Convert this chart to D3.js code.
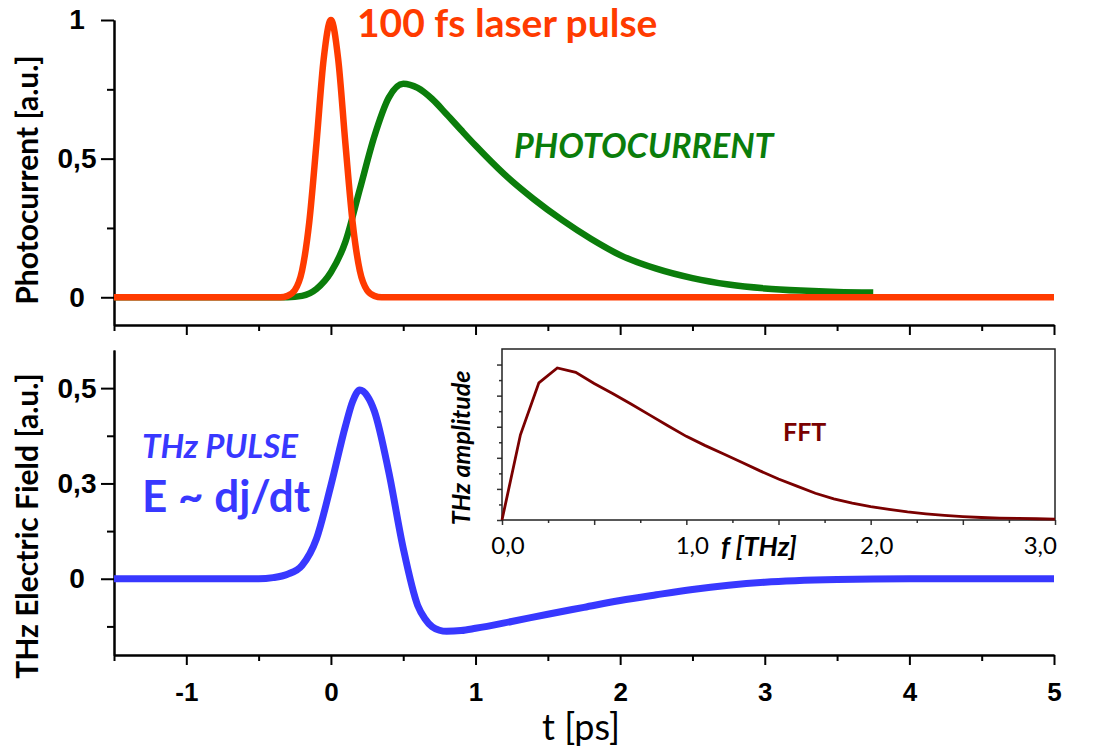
<!DOCTYPE html>
<html>
<head>
<meta charset="utf-8">
<script src="https://cdn.jsdelivr.net/npm/d3@7"></script>
<style>
  body { margin: 0; background: #fff; }
  svg { display: block; font-family: Lato, "Open Sans", sans-serif; }
</style>
</head>
<body>
<div id="chart"></div>
<script>
// laser pulse (top panel, red)
const timeLaser = [-1.5, -1, -0.5, -0.4, -0.35, -0.3, -0.25, -0.2, -0.15, -0.1, -0.05, 0, 0.05, 0.1, 0.15, 0.2, 0.25, 0.3, 0.35, 0.4, 0.5, 1, 2, 3, 4, 5];
const laserPulse = [0, 0, 0, 0, 0, 0.005, 0.025, 0.095, 0.27, 0.555, 0.86, 1, 0.86, 0.555, 0.27, 0.095, 0.025, 0.005, 0, 0, 0, 0, 0, 0, 0, 0];

// photocurrent (top panel, green)
const timePhoto = [-1.5, -1, -0.5, -0.4, -0.3, -0.2, -0.1, 0, 0.1, 0.2, 0.3, 0.4, 0.5, 0.6, 0.7, 0.8, 0.9, 1.0, 1.2, 1.4, 1.6, 1.8, 2.0, 2.25, 2.5, 2.75, 3.0, 3.25, 3.5, 3.75];
const photocurrent = [0, 0, 0, 0, 0, 0.005, 0.03, 0.09, 0.2, 0.39, 0.58, 0.72, 0.77, 0.755, 0.715, 0.66, 0.603, 0.547, 0.443, 0.355, 0.278, 0.21, 0.152, 0.103, 0.069, 0.046, 0.032, 0.024, 0.019, 0.017];

// THz field (bottom panel, blue)
const timeThz = [-1.5, -1, -0.6, -0.5, -0.4, -0.3, -0.2, -0.1, 0, 0.1, 0.15, 0.2, 0.25, 0.3, 0.4, 0.5, 0.6, 0.65, 0.7, 0.75, 0.8, 0.9, 1.0, 1.25, 1.5, 1.75, 2.0, 2.25, 2.5, 2.75, 3.0, 3.5, 4.0, 4.5, 5.0];
const thzField = [0, 0, 0, 0, 0.003, 0.012, 0.035, 0.105, 0.245, 0.4, 0.465, 0.495, 0.48, 0.44, 0.28, 0.08, -0.07, -0.105, -0.126, -0.135, -0.138, -0.136, -0.13, -0.112, -0.093, -0.075, -0.057, -0.042, -0.028, -0.017, -0.009, -0.002, 0, 0, 0];

// FFT spectrum (inset)
const fftFreq = [0, 0.1, 0.2, 0.3, 0.4, 0.5, 0.6, 0.7, 0.8, 0.9, 1.0, 1.1, 1.2, 1.3, 1.4, 1.5, 1.6, 1.7, 1.8, 1.9, 2.0, 2.1, 2.2, 2.3, 2.4, 2.5, 2.6, 2.7, 2.8, 2.9, 3.0];
const fftAmp = [0, 2.74, 4.41, 4.89, 4.75, 4.39, 4.07, 3.73, 3.38, 3.03, 2.69, 2.4, 2.13, 1.86, 1.58, 1.32, 1.09, 0.86, 0.68, 0.54, 0.43, 0.34, 0.26, 0.2, 0.15, 0.11, 0.08, 0.06, 0.05, 0.04, 0.03];

// ticks
const timeTicks = [-1, 0, 1, 2, 3, 4, 5];
const timeMinorTicks = [-1.5, -0.5, 0.5, 1.5, 2.5, 3.5, 4.5];
const topTicks = [0, 0.5, 1];
const topMinorTicks = [0.25, 0.75];
const bottomTicks = [0, 0.25, 0.5];
const bottomMinorTicks = [-0.125, 0.125, 0.375];
const fftTicks = [0, 1, 2, 3];
const fftMajorTicks = [0, 0.5, 1, 1.5, 2, 2.5, 3];
const fftMinorTicks = [0.25, 0.75, 1.25, 1.75, 2.25, 2.75];
const ampTicks = [0, 1, 2, 3, 4, 5];
const ampMinorTicks = [0.5, 1.5, 2.5, 3.5, 4.5];

// "0", "1", "0,5", "0,3" style labels
const comma = (d) => (Number.isInteger(d) ? String(d) : d3.format(".1f")(d).replace(".", ","));

const W = 1094, H = 748;
const svg = d3.select("#chart").append("svg").attr("width", W).attr("height", H);

const x = d3.scaleLinear().domain([-1.5, 5]).range([114, 1054]);
const yTop = d3.scaleLinear().domain([-0.1, 1]).range([325, 20]);
const yBot = d3.scaleLinear().domain([-0.2, 0.6]).range([655, 350]);

function styleAxis(g, size) {
  g.select(".domain").attr("stroke", "#000").attr("stroke-width", 2);
  g.selectAll(".tick line").attr("stroke", "#000").attr("stroke-width", 2);
  g.selectAll("text")
    .attr("font-family", null)
    .style("font-size", size + "px")
    .style("font-weight", "bold")
    .attr("fill", "#000");
}

// ---- top panel axes
svg.append("g")
  .attr("transform", "translate(114,0)")
  .call(d3.axisLeft(yTop).tickValues(topMinorTicks).tickSize(7).tickSizeOuter(0).tickFormat(""))
  .call((g) => styleAxis(g, 28));
svg.append("g")
  .attr("transform", "translate(114,0)")
  .call(d3.axisLeft(yTop).tickValues(topTicks).tickSize(13).tickSizeOuter(0).tickFormat(comma))
  .call((g) => styleAxis(g, 28))
  .call((g) => g.selectAll("text").attr("x", -37).attr("text-anchor", "middle"));
svg.append("g")
  .attr("transform", "translate(0,325)")
  .call(d3.axisBottom(x).tickValues(timeMinorTicks).tickSize(6).tickSizeOuter(0).tickFormat(""))
  .call((g) => styleAxis(g, 26));
svg.append("g")
  .attr("transform", "translate(0,325)")
  .call(d3.axisBottom(x).tickValues(timeTicks).tickSize(10).tickSizeOuter(0).tickFormat(""))
  .call((g) => styleAxis(g, 26));

// ---- bottom panel axes
svg.append("g")
  .attr("transform", "translate(114,0)")
  .call(d3.axisLeft(yBot).tickValues(bottomMinorTicks).tickSize(7).tickSizeOuter(0).tickFormat(""))
  .call((g) => styleAxis(g, 28));
svg.append("g")
  .attr("transform", "translate(114,0)")
  .call(d3.axisLeft(yBot).tickValues(bottomTicks).tickSize(13).tickSizeOuter(0).tickFormat(comma))
  .call((g) => styleAxis(g, 28))
  .call((g) => g.selectAll("text").attr("x", -37).attr("text-anchor", "middle"));
svg.append("g")
  .attr("transform", "translate(0,655)")
  .call(d3.axisBottom(x).tickValues(timeMinorTicks).tickSize(6).tickSizeOuter(0).tickFormat(""))
  .call((g) => styleAxis(g, 26));
svg.append("g")
  .attr("transform", "translate(0,655)")
  .call(d3.axisBottom(x).tickValues(timeTicks).tickSize(10).tickSizeOuter(0).tickFormat((d) => String(d)))
  .call((g) => styleAxis(g, 26))
  .call((g) => g.selectAll("text").attr("y", 46).attr("dy", null));

// axis titles
svg.append("text")
  .attr("transform", "translate(38,180) rotate(-90)")
  .attr("text-anchor", "middle")
  .style("font-size", "30px").style("font-weight", "bold")
  .text("Photocurrent [a.u.]");
svg.append("text")
  .attr("transform", "translate(38,526) rotate(-90)")
  .attr("text-anchor", "middle")
  .style("font-size", "30px").style("font-weight", "bold")
  .text("THz Electric Field [a.u.]");
svg.append("text")
  .attr("x", 581).attr("y", 740)
  .attr("text-anchor", "middle")
  .style("font-size", "36px")
  .text("t [ps]");

// ---- curves
const line = (xs, ys, yScale) =>
  d3.line().x((d, i) => x(xs[i])).y((d, i) => yScale(ys[i])).curve(d3.curveMonotoneX)(ys);

svg.append("path")
  .attr("d", line(timePhoto, photocurrent, yTop))
  .attr("fill", "none").attr("stroke", "#0b7d0b").attr("stroke-width", 6.5);
svg.append("path")
  .attr("d", line(timeLaser, laserPulse, yTop))
  .attr("fill", "none").attr("stroke", "#ff3b00").attr("stroke-width", 6.5);
svg.append("path")
  .attr("d", line(timeThz, thzField, yBot))
  .attr("fill", "none").attr("stroke", "#3838ff").attr("stroke-width", 7);

// labels
svg.append("text")
  .attr("x", 357).attr("y", 37)
  .attr("fill", "#ff3b00")
  .style("font-size", "39px").style("font-weight", "bold")
  .text("100 fs laser pulse");
svg.append("text")
  .attr("x", 514).attr("y", 158)
  .attr("fill", "#0b7d0b")
  .style("font-size", "34px").style("font-weight", "bold").style("font-style", "italic")
  .text("PHOTOCURRENT");
svg.append("text")
  .attr("x", 142).attr("y", 458)
  .attr("fill", "#3838ff")
  .style("font-size", "33px").style("font-weight", "bold").style("font-style", "italic")
  .text("THz PULSE");
svg.append("text")
  .attr("x", 142).attr("y", 512)
  .attr("fill", "#3838ff")
  .style("font-size", "44px").style("font-weight", "bold")
  .text("E ~ dj/dt");

// ---- inset FFT
const fx = d3.scaleLinear().domain([0, 3]).range([502, 1055]);
const fy = d3.scaleLinear().domain([0, 5.5]).range([520, 349]);

function thinAxis(g) {
  g.select(".domain").remove();
  g.selectAll(".tick line").attr("stroke", "#333").attr("stroke-width", 1.5);
}

svg.append("g").attr("transform", "translate(502,0)")
  .call(d3.axisLeft(fy).tickValues(ampMinorTicks).tickSize(3).tickFormat("")).call(thinAxis);
svg.append("g").attr("transform", "translate(502,0)")
  .call(d3.axisLeft(fy).tickValues(ampTicks).tickSize(5).tickFormat("")).call(thinAxis);
svg.append("g").attr("transform", "translate(0,520)")
  .call(d3.axisBottom(fx).tickValues(fftMinorTicks).tickSize(3).tickFormat("")).call(thinAxis);
svg.append("g").attr("transform", "translate(0,520)")
  .call(d3.axisBottom(fx).tickValues(fftMajorTicks).tickSize(5).tickFormat("")).call(thinAxis);

svg.append("rect")
  .attr("x", fx(0)).attr("y", fy(5.5))
  .attr("width", fx(3) - fx(0)).attr("height", fy(0) - fy(5.5))
  .attr("fill", "none").attr("stroke", "#222").attr("stroke-width", 1.5);

svg.append("g")
  .selectAll("text")
  .data(fftTicks)
  .join("text")
  .attr("x", (d) => (d === 3 ? fx(d) + 2 : fx(d) + 6))
  .attr("y", 554)
  .attr("text-anchor", (d) => (d === 3 ? "end" : "middle"))
  .style("font-size", "24px")
  .text((d) => d3.format(".1f")(d).replace(".", ","));

svg.append("path")
  .attr("d", d3.line().x((d, i) => fx(fftFreq[i])).y((d) => fy(d))(fftAmp))
  .attr("fill", "none").attr("stroke", "#7a0000").attr("stroke-width", 2.8);

svg.append("text")
  .attr("x", 783).attr("y", 441)
  .attr("fill", "#7a0000")
  .style("font-size", "25px").style("font-weight", "bold")
  .text("FFT");
svg.append("text")
  .attr("x", 721).attr("y", 556)
  .style("font-size", "27px").style("font-weight", "bold").style("font-style", "italic")
  .text("f [THz]");
svg.append("text")
  .attr("transform", "translate(470,448) rotate(-90)")
  .attr("text-anchor", "middle")
  .style("font-size", "25px").style("font-weight", "bold").style("font-style", "italic")
  .text("THz amplitude");
</script>
</body>
</html>
